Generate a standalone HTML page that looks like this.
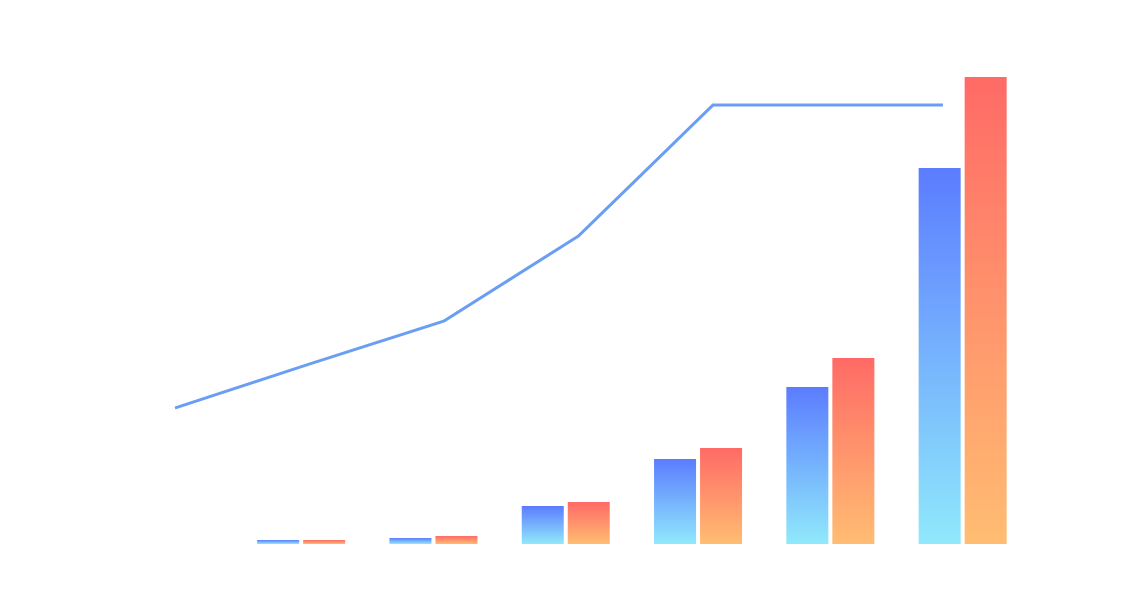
<!DOCTYPE html>
<html>
<head>
<meta charset="utf-8">
<style>
html,body{margin:0;padding:0;background:#fff;}
svg{display:block;}
</style>
</head>
<body>
<svg id="chart" width="1142" height="603" viewBox="0 0 1142 603" xmlns="http://www.w3.org/2000/svg">
<defs>
<linearGradient id="gBlue" x1="0" y1="0" x2="0" y2="1">
<stop offset="0" stop-color="#5b7cff"/>
<stop offset="1" stop-color="#90e9fb"/>
</linearGradient>
<linearGradient id="gRed" x1="0" y1="0" x2="0" y2="1">
<stop offset="0" stop-color="#ff6a66"/>
<stop offset="1" stop-color="#ffbd72"/>
</linearGradient>
</defs>
<g id="bars"></g>
<g id="line"></g>
</svg>
<script>
const categories = ["c1","c2","c3","c4","c5","c6"];
const seriesA = [4, 6, 38, 85, 157, 376];
const seriesB = [4, 8, 42, 96, 186, 467];
const lineX = [0, 1, 2, 3, 4, 5.71];
const lineValues = [136, 180, 223, 308, 439, 439];

const NS = "http://www.w3.org/2000/svg";
const baseY = 544;
const groupStart = 235, groupStep = 132.3;
const barW = 42, barGap = 4;
function xBand(i){ return groupStart + i*groupStep; }
function yScale(v){ return baseY - v; }
function xLine(i){ return 175 + i*134.5; }

const bars = document.getElementById("bars");
categories.forEach((c,i)=>{
  const center = xBand(i) + groupStep/2;
  [[seriesA,"url(#gBlue)","a"],[seriesB,"url(#gRed)","b"]].forEach(([arr,fill,s],k)=>{
    const r = document.createElementNS(NS,"rect");
    const x = k===0 ? center - barGap/2 - barW : center + barGap/2;
    r.setAttribute("x", x);
    r.setAttribute("y", yScale(arr[i]));
    r.setAttribute("width", barW);
    r.setAttribute("height", arr[i]);
    r.setAttribute("fill", fill);
    
    
    bars.appendChild(r);
  });
});

const lg = document.getElementById("line");
const pts = lineValues.map((v,i)=> xLine(lineX[i]) + "," + yScale(v)).join(" ");
const pl = document.createElementNS(NS,"polyline");
pl.setAttribute("points", pts);
pl.setAttribute("fill","none");
pl.setAttribute("stroke","#6a9ef2");
pl.setAttribute("stroke-width","3");


lg.appendChild(pl);
</script>
</body>
</html>
